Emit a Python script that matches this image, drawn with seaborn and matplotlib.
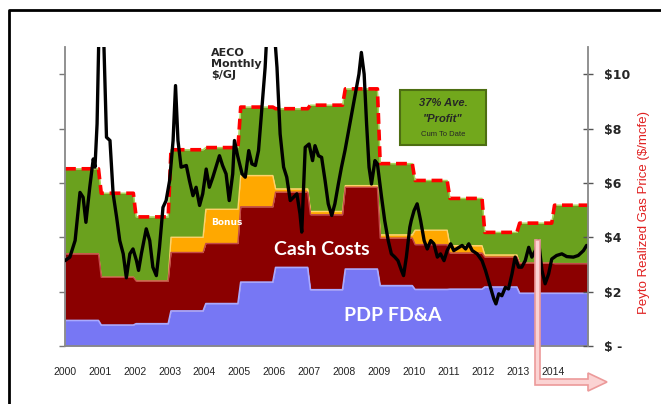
import numpy as np
import matplotlib
matplotlib.use("Agg")
import matplotlib.pyplot as plt
import seaborn as sns
from matplotlib.patches import Polygon, Rectangle

# yearly components ($/mcfe)
years = np.arange(2000, 2015)
fda = [0.94, 0.77, 0.82, 1.29, 1.56, 2.35, 2.89, 2.07, 2.83, 2.22, 2.08, 2.09, 2.17, 1.94, 1.94]
cash_costs = [2.45, 1.76, 1.57, 2.15, 2.21, 2.77, 2.77, 2.76, 3.01, 1.75, 1.65, 1.33, 1.10, 1.11, 1.09]
bonus = [0, 0, 0, 0.56, 1.26, 1.15, 0.12, 0.12, 0.06, 0.12, 0.53, 0.27, 0.08, 0, 0]
realized_price = [6.52, 5.62, 4.75, 7.22, 7.30, 8.79, 8.73, 8.86, 9.46, 6.71, 6.09, 5.43, 4.18, 4.52, 5.18]

# AECO monthly gas price ($/GJ)
aeco_t = [2000.00, 2000.14, 2000.29, 2000.43, 2000.52, 2000.60, 2000.71, 2000.81, 2000.86, 2000.92,
          2000.98, 2001.05, 2001.10, 2001.19, 2001.29, 2001.38, 2001.48, 2001.57, 2001.67, 2001.76,
          2001.86, 2001.95, 2002.05, 2002.11, 2002.19, 2002.33, 2002.43, 2002.52, 2002.62, 2002.71,
          2002.81, 2002.90, 2003.00, 2003.10, 2003.17, 2003.24, 2003.33, 2003.48, 2003.57, 2003.67,
          2003.76, 2003.86, 2003.95, 2004.05, 2004.14, 2004.24, 2004.43, 2004.52, 2004.62, 2004.71,
          2004.81, 2004.86, 2004.95, 2005.08, 2005.17, 2005.27, 2005.36, 2005.46, 2005.55, 2005.65,
          2005.74, 2005.79, 2005.89, 2005.98, 2006.08, 2006.17, 2006.27, 2006.36, 2006.46, 2006.55,
          2006.65, 2006.74, 2006.79, 2006.89, 2007.00, 2007.10, 2007.17, 2007.27, 2007.36, 2007.46,
          2007.55, 2007.65, 2007.74, 2007.84, 2007.93, 2008.03, 2008.17, 2008.31, 2008.43, 2008.50,
          2008.58, 2008.65, 2008.72, 2008.79, 2008.89, 2008.96, 2009.08, 2009.17, 2009.27, 2009.36,
          2009.46, 2009.55, 2009.65, 2009.71, 2009.79, 2009.89, 2009.93, 2010.01, 2010.10, 2010.20,
          2010.30, 2010.39, 2010.49, 2010.58, 2010.68, 2010.77, 2010.87, 2010.96, 2011.06, 2011.15,
          2011.30, 2011.39, 2011.49, 2011.58, 2011.68, 2011.82, 2011.96, 2012.06, 2012.20, 2012.30,
          2012.36, 2012.44, 2012.53, 2012.63, 2012.72, 2012.82, 2012.91, 2013.01, 2013.10, 2013.20,
          2013.30, 2013.39, 2013.49, 2013.58, 2013.68, 2013.77, 2013.87, 2013.96, 2014.10, 2014.25,
          2014.39, 2014.58, 2014.72, 2014.87, 2014.96]
aeco_price = [3.14, 3.27, 3.88, 5.65, 5.47, 4.55, 5.84, 6.88, 6.58, 8.17,
              12.0, 12.6, 11.8, 7.68, 7.56, 5.60, 4.74, 3.88, 3.39, 2.51,
              3.39, 3.57, 3.14, 2.78, 3.39, 4.31, 3.88, 2.90, 2.59, 3.63,
              5.10, 5.35, 6.08, 7.56, 9.58, 7.56, 6.58, 6.64, 6.08, 5.53,
              5.84, 5.17, 5.60, 6.51, 5.84, 6.21, 7.00, 6.64, 6.33, 5.35,
              6.33, 7.56, 7.00, 6.33, 6.21, 7.19, 6.70, 6.64, 7.19, 8.78,
              10.25, 11.5, 12.5, 12.0, 10.25, 7.80, 6.58, 6.21, 5.35, 5.47,
              5.60, 4.86, 4.19, 7.31, 7.43, 6.82, 7.37, 7.00, 6.94, 6.08,
              5.23, 4.80, 5.23, 5.96, 6.58, 7.19, 8.17, 9.15, 10.00, 10.80,
              10.00, 8.17, 6.58, 5.96, 6.82, 6.70, 5.47, 4.61, 3.88, 3.39,
              3.27, 3.14, 2.78, 2.59, 3.27, 4.37, 4.61, 4.98, 5.23, 4.61,
              3.88, 3.57, 3.88, 3.76, 3.27, 3.39, 3.14, 3.51, 3.76, 3.51,
              3.63, 3.70, 3.57, 3.76, 3.51, 3.39, 3.14, 2.78, 2.16, 1.73,
              1.55, 1.92, 1.85, 2.16, 2.10, 2.65, 3.27, 2.90, 2.90, 3.14,
              3.63, 3.27, 3.51, 3.88, 2.78, 2.29, 2.65, 3.20, 3.33, 3.39,
              3.29, 3.27, 3.33, 3.51, 3.70]

tick_years = list(range(2000, 2015))
right_ticks = [0, 2, 4, 6, 8, 10]
right_labels = ["$ -", "$2", "$4", "$6", "$8", "$10"]


def steps(vals):
    # yearly values as a step profile with a short ramp at each year boundary
    xs, ys = [], []
    n = len(vals)
    for i, v in enumerate(vals):
        lo = years[i] if i == 0 else years[i] + 0.04
        hi = years[i] + 1 if i == n - 1 else years[i] + 0.96
        xs += [lo, hi]
        ys += [v, v]
    return np.array(xs), np.array(ys)


sns.set_style("white")
plt.rcParams['font.family'] = ['Liberation Sans', 'DejaVu Sans']

fig = plt.figure(figsize=(6.61, 4.04), dpi=100)
ax = fig.add_axes([65 / 661, 1 - 346 / 404, (588 - 65) / 661, (346 - 47) / 404])

top_blue = np.array(fda)
top_red = top_blue + np.array(cash_costs)
top_orange = top_red + np.array(bonus)
top_green = np.array(realized_price)

x, yb = steps(top_blue)
_, yr = steps(top_red)
_, yo = steps(top_orange)
_, yg = steps(top_green)

ax.fill_between(x, yo, yg, color="#6aa11e", lw=0, zorder=1)
ax.plot(x, yg, color="#a9d45a", lw=1, zorder=1.1)
ax.fill_between(x, yr, yo, color="#ffa800", lw=0, zorder=1.2)
ax.plot(x, yo, color="#ffd36a", lw=1, zorder=1.3)
ax.fill_between(x, yb, yr, color="#8b0000", lw=0, zorder=1.4)
ax.plot(x, yr, color="#c24848", lw=1, zorder=1.5)
ax.fill_between(x, 0, yb, color="#7777f4", lw=0, zorder=1.6)
ax.plot(x, yb, color="#a9a9ff", lw=1.2, zorder=1.7)

sns.lineplot(x=x, y=yg, ax=ax, color="#ff0000", lw=2.6, dashes=False, sort=False,
             estimator=None, zorder=2)
ax.lines[-1].set_dashes([3.0, 1.6])

sns.lineplot(x=aeco_t, y=aeco_price, ax=ax, color="black", lw=2.4, sort=False,
             estimator=None, zorder=3)

ax.set_xlim(2000, 2015)
ax.set_ylim(0, 11)
ax.set_xticks(tick_years + [2015])
ax.set_xticklabels([str(t) for t in tick_years] + [""], fontsize=7.5, color="#222222")
ax.set_yticks(right_ticks)
ax.set_yticklabels([])
ax.tick_params(axis="x", direction="out", length=3, width=1, color="#555555", pad=12)
ax.tick_params(axis="y", direction="out", length=4, width=1, color="#777777")
for s in ["top", "right"]:
    ax.spines[s].set_visible(False)
for s in ["left", "bottom"]:
    ax.spines[s].set_color("#888888")
    ax.spines[s].set_linewidth(1.3)

ax2 = ax.twinx()
ax2.set_ylim(0, 11)
ax2.set_yticks(right_ticks)
ax2.set_yticklabels(right_labels, fontsize=9, fontweight="bold", family="DejaVu Sans")
ax2.tick_params(axis="y", direction="inout", length=7, width=1, color="#555555", pad=8)
for s in ["top", "left", "bottom"]:
    ax2.spines[s].set_visible(False)
ax2.spines["right"].set_color("#888888")
ax2.spines["right"].set_linewidth(1.3)
ax2.set_ylabel("Peyto Realized Gas Price ($/mcfe)", color="#e02020", fontsize=9.5)
ax2.yaxis.set_label_coords(1.095, 0.445)

# labels inside the chart
ax.text(2004.2, 4.55, "Bonus", color="white", fontsize=6.5, family="DejaVu Sans",
        fontweight="bold", ha="left", va="center", zorder=4)
ax.text(2006.0, 3.55, "Cash Costs", color="white", fontsize=14, family="Lato",
        fontweight="bold", ha="left", va="center", zorder=4)
ax.text(2008.0, 1.12, "PDP FD&A", color="white", fontsize=14, family="Lato",
        fontweight="bold", ha="left", va="center", zorder=4)
fig.text(211 / 661, 1 - 48 / 404, "AECO\nMonthly\n$/GJ", fontsize=8, fontweight="bold",
         family="DejaVu Sans", ha="left", va="top", linespacing=1.15)

# profit box
fig.patches.append(Rectangle((400 / 661, 1 - 145 / 404), 86 / 661, 55 / 404,
                             transform=fig.transFigure, facecolor="#72a81c",
                             edgecolor="#4d6e12", lw=1.5, zorder=5))
fig.text(443 / 661, 1 - 103 / 404, "37% Ave.", fontsize=8, fontweight="bold",
         style="italic", ha="center", va="center", zorder=6)
fig.text(443 / 661, 1 - 119 / 404, "\"Profit\"", fontsize=8, fontweight="bold",
         style="italic", ha="center", va="center", zorder=6)
fig.text(443 / 661, 1 - 134 / 404, "Cum To Date", fontsize=5.5, ha="center", va="center",
         zorder=6)

# pink arrow
arrow_px = [(535, 240), (540, 240), (540, 379), (588, 379), (588, 373), (607, 382),
            (588, 391), (588, 385), (535, 385)]
fig.patches.append(Polygon([(px / 661, 1 - py / 404) for px, py in arrow_px], closed=True,
                           transform=fig.transFigure, facecolor="#fbd3d3",
                           edgecolor="#ec9a9a", lw=1.2, zorder=7))

# outer frame
fig.add_artist(plt.Line2D([9 / 661, 9 / 661, 1], [0, 1 - 10 / 404, 1 - 10 / 404],
                          transform=fig.transFigure, color="black", lw=2))

fig.savefig("out.png", dpi=100)
